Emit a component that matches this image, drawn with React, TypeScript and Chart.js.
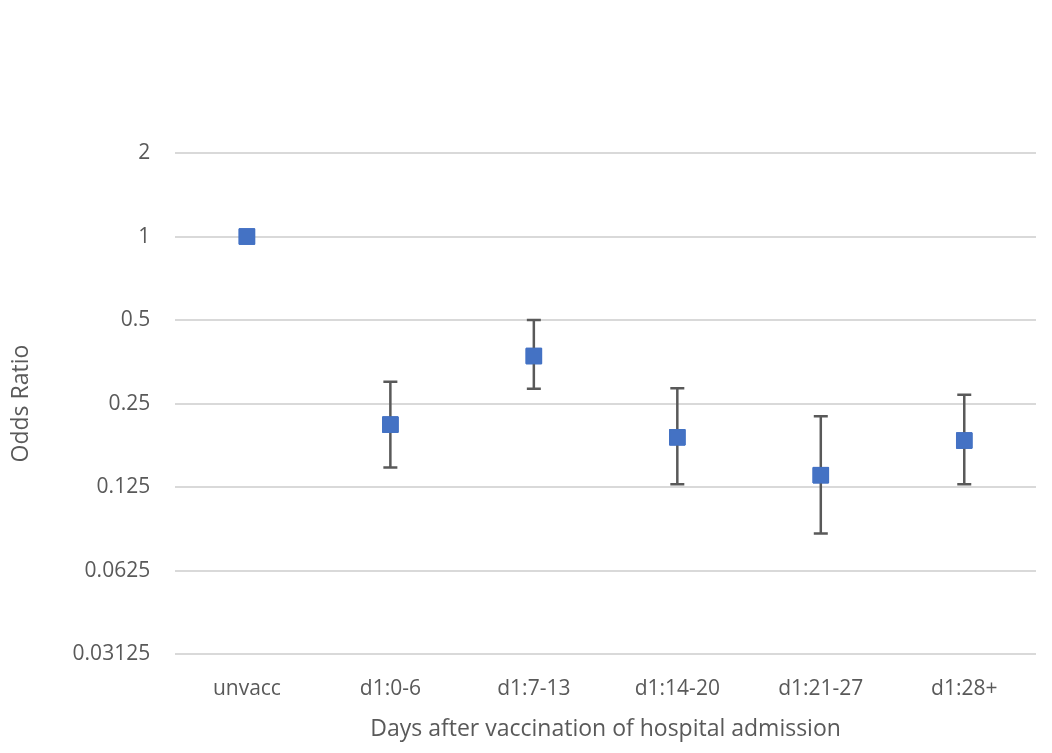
import { useEffect, useRef } from 'react';
import { Chart, registerables } from 'chart.js';

Chart.register(...registerables);

const categories = ['unvacc', 'd1:0-6', 'd1:7-13', 'd1:14-20', 'd1:21-27', 'd1:28+'];
const oddsRatio = [1.0, 0.21, 0.371, 0.189, 0.138, 0.184];
const upperCI = [null, 0.3, 0.5, 0.284, 0.225, 0.269];
const lowerCI = [null, 0.147, 0.283, 0.128, 0.085, 0.128];
const yTicks = [0.03125, 0.0625, 0.125, 0.25, 0.5, 1, 2];

const errorBars = {
  id: 'errorBars',
  afterDatasetsDraw(chart: any) {
    const { ctx } = chart;
    const x = chart.scales.x;
    const y = chart.scales.y;
    ctx.save();
    ctx.strokeStyle = '#595959';
    ctx.lineWidth = 2.5;
    categories.forEach((_, i) => {
      const hi = upperCI[i];
      const lo = lowerCI[i];
      if (hi == null || lo == null) return;
      const px = x.getPixelForValue(i);
      const top = y.getPixelForValue(hi);
      const bot = y.getPixelForValue(lo);
      ctx.beginPath();
      ctx.moveTo(px, top);
      ctx.lineTo(px, bot);
      ctx.moveTo(px - 7, top);
      ctx.lineTo(px + 7, top);
      ctx.moveTo(px - 7, bot);
      ctx.lineTo(px + 7, bot);
      ctx.stroke();
    });
    ctx.restore();
    // redraw points on top of bars
    const meta = chart.getDatasetMeta(0);
    meta.data.forEach((el: any) => el.draw(ctx));
  },
};

export default function App() {
  const canvasRef = useRef<HTMLCanvasElement>(null);

  useEffect(() => {
    document.body.style.margin = '0';
    if (!canvasRef.current) return;
    const chart = new Chart(canvasRef.current, {
      type: 'line',
      data: {
        labels: categories,
        datasets: [
          {
            data: oddsRatio,
            showLine: false,
            pointStyle: 'rect',
            pointRadius: 11,
            backgroundColor: '#4472C4',
            borderColor: '#4472C4',
            borderWidth: 1,
          },
        ],
      },
      options: {
        animation: false,
        responsive: false,
        layout: { padding: { top: 153, right: 16, left: 4, bottom: 8 } },
        plugins: { legend: { display: false }, tooltip: { enabled: false } },
        scales: {
          x: {
            offset: true,
            grid: { display: false },
            border: { display: false },
            ticks: { color: '#595959', font: { family: 'Open Sans', size: 21 }, padding: 14 },
            title: {
              display: true,
              text: 'Days after vaccination of hospital admission',
              color: '#595959',
              font: { family: 'Open Sans', size: 23 },
              padding: { top: 0, bottom: 2 },
            },
          },
          y: {
            type: 'logarithmic',
            min: 0.03125,
            max: 2,
            afterBuildTicks: (scale: any) => {
              scale.ticks = yTicks.map((v) => ({ value: v }));
            },
            grid: { color: '#d9d9d9', lineWidth: 2, drawTicks: false },
            border: { display: false },
            ticks: {
              color: '#595959',
              font: { family: 'Open Sans', size: 21 },
              padding: 25,
              callback: (v: any) => String(v),
            },
            title: {
              display: true,
              text: 'Odds Ratio',
              color: '#595959',
              font: { family: 'Open Sans', size: 23 },
              padding: { bottom: 12 },
            },
          },
        },
      },
      plugins: [errorBars],
    });
    return () => chart.destroy();
  }, []);

  return <canvas ref={canvasRef} width={1052} height={753} style={{ display: 'block' }} />;
}
